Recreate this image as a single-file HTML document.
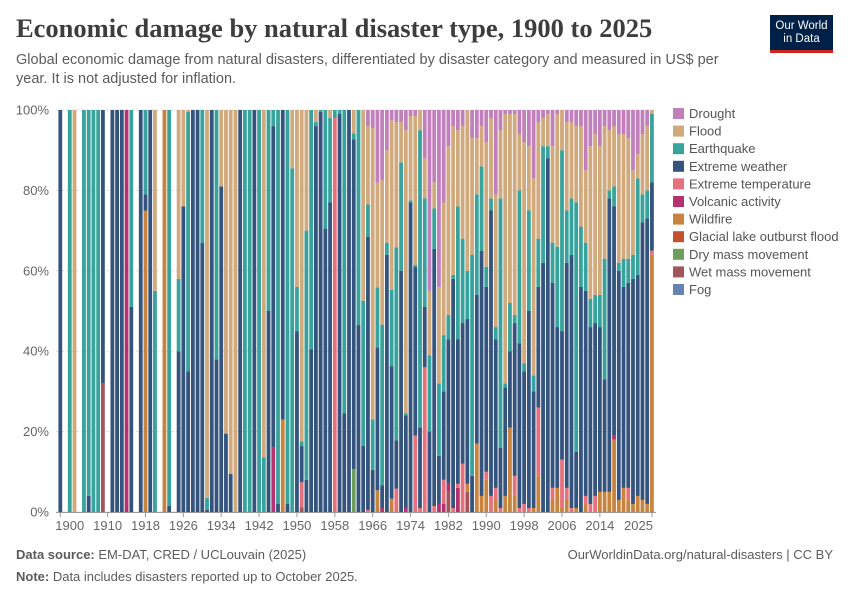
<!DOCTYPE html>
<html><head><meta charset="utf-8">
<style>
body{margin:0;background:#fff;width:850px;height:600px;overflow:hidden;font-family:"Liberation Sans",sans-serif;}
#title{position:absolute;left:16px;top:13px;font-family:"Liberation Serif",serif;font-size:26.5px;font-weight:bold;color:#3d3d3d;margin:0;}
#subtitle{position:absolute;left:16px;top:51px;width:730px;font-size:14.5px;line-height:19px;color:#5b5b5b;}
#logo{position:absolute;left:770px;top:15px;width:63px;height:38px;background:#002147;color:#fff;font-size:11.5px;line-height:13px;text-align:center;border-bottom:3px solid #ce261e;box-sizing:border-box;padding-top:5px;}
.foot{position:absolute;font-size:13px;color:#5b5b5b;}
</style></head><body>
<div id="title">Economic damage by natural disaster type, 1900 to 2025</div>
<div id="subtitle">Global economic damage from natural disasters, differentiated by disaster category and measured in US$ per year. It is not adjusted for inflation.</div>
<div id="logo">Our World<br>in Data</div>
<svg id="chart" width="850" height="600" style="position:absolute;left:0;top:0"></svg>
<div class="foot" style="left:16px;top:547px"><b>Data source:</b> EM-DAT, CRED / UCLouvain (2025)</div>
<div class="foot" style="right:17px;top:547px">OurWorldinData.org/natural-disasters | CC BY</div>
<div class="foot" style="left:16px;top:569px"><b>Note:</b> Data includes disasters reported up to October 2025.</div>
<script>
const startYear = 1900;
const yTicks = [0,20,40,60,80,100];
const xTicks = [1900,1910,1918,1926,1934,1942,1950,1958,1966,1974,1982,1990,1998,2006,2014,2025];
const seriesNames = ["Drought","Flood","Earthquake","Extreme weather","Extreme temperature","Volcanic activity","Wildfire","Glacial lake outburst flood","Dry mass movement","Wet mass movement","Fog"];
const seriesColors = ["#c17fbc","#d0a97c","#38a39c","#34547e","#e7707d","#b5316f","#c7843e","#c4522f","#6d9e5c","#a2565a","#6683b3"];
const drought = [0,0,0,0,0,0,0,0,0,0, 0,0,0,0,0,0,0,0,0,0, 0,0,0,0,0,0,0,0,0,0, 0,0,0,0,0,0,0,0,0,0, 0,0,0,0,0,0,0,0,0,0, 0,0,0,0,0,0,0,0,0,0,
 0,0,0,0,0,4,4.5,18.1,17.4,10, 2.5,3,3,5,1.5,1.5,0,12,45,18, 44,23,9,4,5,4,0,7,7,4, 8,2,21,5,1,1,1,6,8,9, 17,3,2,1,9,1,0,3,3,4, 4,15,9,6,9,4,5,4,6,6, 7,15,11,6,4,0];
const flood = [0,0,0,100,0,0,0,0,0,0, 0,0,0,0,0,0,0,0,0,0, 45,0,0,0,0,42,24,0.5,0,0, 0,96.5,0,0,19,80.5,90.5,100,0,0, 0,0,0,86.4,0,0,0,0,0,14.5, 44,82.4,30,0,3,0,0,2,0,0,
 0,0,5.8,0,47.5,19.5,72.5,26,36,23, 42.2,31.2,10,70.5,21,37,5,10,16,6.5, 24,33,42,37,19,28,40,29,14,10, 31,20,33,17,67,47,50,14,55,16, 49,29,7,8,24,33,10,22,19,19, 25,18,38,40,37,33,15,15,32,31, 30,21,6,15,16,1];
const earthquake = [0,0,100,0,0,100,96,100,100,0, 0,0,0,0,0,49,0,0,21,0, 55,0,0,98.5,0,18,0,64.5,0,0, 33,3,0,62,0,0,0,0,0,100, 100,0,100,13.6,50,4,98,0,98,85.5, 11,1.2,62,59.5,1,0.5,29.5,21,2,1,
 75.5,0,1.5,53.5,36,8,12.5,15,40,3, 19,48,27,0.5,0.5,0.5,74,27,19,10, 18,14,6,1,33,21,12,55,25,21, 5,3,3,62,1,12,2,38,2,25, 4,12,29,3,10,20,45,13,14,62, 15,12,7,7,8,30,2,5,2,7, 6,6,24,7,7,17];
const extremeWeather = [100,0,0,0,0,0,4,0,0,68, 0,100,100,100,0,51,0,100,4,100, 0,0,0,1.5,0,40,76,35,100,100, 67,0.5,100,38,81,19.5,9.5,0,100,0, 0,100,0,0,50,80,2,77,2,0, 45,9,8,40.5,96,99.5,70.5,77,0,99,
 24.5,100,82,46.5,16.5,68,10.5,35.5,5.6,64, 33,12,60,23,77,42,20,15,20,64, 12,22,36,57,36,35,41,9,37,61, 46,71,37,15,27,19,38,41,33,49, 29,30,62,88,51,40,32,56,63,14, 56,51,44,43,41,28,73,57,57,50, 51,56,55,69,71,17];
const extremeTemp = [0,0,0,0,0,0,0,0,0,0, 0,0,0,0,0,0,0,0,0,0, 0,0,0,0,0,0,0,0,0,0, 0,0,0,0,0,0,0,0,0,0, 0,0,0,0,0,0,0,0,0,0, 0,6.2,0,0,0,0,0,0,98,0,
 0,0,0,0,0,0.5,0,0,0,0, 0,5.8,0,0,0,19,1,36,0,1.5, 0,6,0,1,1,12,0,0,0,0, 2,4,3,1,0,0,5,1,2,1, 0,17,0,0,3,0,12,3,1,0, 0,2,2,4,0,0,0,0,0,0, 3,0,0,0,0,1];
const volcanic = [0,0,0,0,0,0,0,0,0,0, 0,0,0,0,100,0,0,0,0,0, 0,0,0,0,0,0,0,0,0,0, 0,0,0,0,0,0,0,0,0,0, 0,0,0,0,0,16,0,0,0,0, 0,0,0,0,0,0,0,0,0,0,
 0,0,0,0,0,0,0,0,1,0, 0,0,0,1,0,0,0,0,0,0, 2,2,2,0,6,0,0,0,0,0, 0,0,0,0,0,0,0,0,0,0, 0,0,0,0,0,0,0,0,0,0, 0,0,0,0,0,0,0,1,0,0, 0,0,0,0,0,0];
const wildfire = [0,0,0,0,0,0,0,0,0,0, 0,0,0,0,0,0,0,0,75,0, 0,0,100,0,0,0,0,0,0,0, 0,0,0,0,0,0,0,0,0,0, 0,0,0,0,0,0,0,23,0,0, 0,0,0,0,0,0,0,0,0,0,
 0,0,0,0,0,0,0,5.4,0,0, 3.3,0,0,0,0,0,0,0,0,0, 0,0,0,0,0,0,2,0,17,4, 8,0,3,0,4,21,4,0,0,0, 1,9,0,0,3,6,1,3,0,1, 0,2,0,0,5,5,5,18,3,6, 3,2,4,3,2,64];
const glacial = [0,0,0,0,0,0,0,0,0,0, 0,0,0,0,0,0,0,0,0,0, 0,0,0,0,0,0,0,0,0,0, 0,0,0,0,0,0,0,0,0,0, 0,0,0,0,0,0,0,0,0,0, 0,0,0,0,0,0,0,0,0,0,
 0,0,0,0,0,0,0,0,0,0, 0,0,0,0,0,0,0,0,0,0, 0,0,0,0,0,0,0,0,0,0, 0,0,0,0,0,0,0,0,0,0, 0,0,0,0,0,0,0,0,0,0, 0,0,0,0,0,0,0,0,0,0, 0,0,0,0,0,0];
const dryMass = [0,0,0,0,0,0,0,0,0,0, 0,0,0,0,0,0,0,0,0,0, 0,0,0,0,0,0,0,0,0,0, 0,0,0,0,0,0,0,0,0,0, 0,0,0,0,0,0,0,0,0,0, 0,0,0,0,0,0,0,0,0,0,
 0,0,10.7,0,0,0,0,0,0,0, 0,0,0,0,0,0,0,0,0,0, 0,0,0,0,0,0,0,0,0,0, 0,0,0,0,0,0,0,0,0,0, 0,0,0,0,0,0,0,0,0,0, 0,0,0,0,0,0,0,0,0,0, 0,0,0,0,0,0];
const wetMass = [0,0,0,0,0,0,0,0,0,32, 0,0,0,0,0,0,0,0,0,0, 0,0,0,0,0,0,0,0,0,0, 0,0,0,0,0,0,0,0,0,0, 0,0,0,0,0,0,0,0,0,0, 0,1.2,0,0,0,0,0,0,0,0,
 0,0,0,0,0,0,0,0,0,0, 0,0,0,0,0,0,0,0,0,0, 0,0,5,0,0,0,5,0,0,0, 0,0,0,0,0,0,0,0,0,0, 0,0,0,0,0,0,0,0,0,0, 0,0,0,0,0,0,0,0,0,0, 0,0,0,0,0,0];
const fog = [0,0,0,0,0,0,0,0,0,0, 0,0,0,0,0,0,0,0,0,0, 0,0,0,0,0,0,0,0,0,0, 0,0,0,0,0,0,0,0,0,0, 0,0,0,0,0,0,0,0,0,0, 0,0,0,0,0,0,0,0,0,0,
 0,0,0,0,0,0,0,0,0,0, 0,0,0,0,0,0,0,0,0,0, 0,0,0,0,0,0,0,0,0,0, 0,0,0,0,0,0,0,0,0,0, 0,0,0,0,0,0,0,0,0,0, 0,0,0,0,0,0,0,0,0,0, 0,0,0,0,0,0];

const series = [drought,flood,earthquake,extremeWeather,extremeTemp,volcanic,wildfire,glacial,dryMass,wetMass,fog];
const svg = document.getElementById('chart');
const NS = 'http://www.w3.org/2000/svg';
const plotTop = 110, plotBottom = 512, x0 = 60.3, step = 4.733, barW = 3.8;
function xScale(year){ return x0 + (year - startYear) * step; }
function yScale(p){ return plotBottom - (p / 100) * (plotBottom - plotTop); }
function mk(tag, attrs){ const e = document.createElementNS(NS, tag); for (const k in attrs) e.setAttribute(k, attrs[k]); svg.appendChild(e); return e; }

yTicks.forEach(t => {
  const y = yScale(t);
  const g = mk('line', {x1:56, x2:656, y1:y, y2:y, stroke:'#ddd', 'stroke-dasharray': t === 0 ? '' : '3,2'});
  
  
  const lbl = mk('text', {x:49, y:y+4.5, 'text-anchor':'end', 'font-size':13, fill:'#666', 'font-family':'Liberation Sans, sans-serif'});
  lbl.textContent = t + '%';
  
  
});

const n = drought.length;
for (let i = 0; i < n; i++) {
  let total = 0;
  series.forEach(s => total += s[i]);
  if (total <= 0) continue;
  let cum = 0;
  for (let k = series.length - 1; k >= 0; k--) {
    const v = series[k][i];
    if (v <= 0) continue;
    const yA = yScale(cum / total * 100), yB = yScale((cum + v) / total * 100);
    const r = mk('rect', {x: xScale(startYear + i) - barW/2, y: yB, width: barW, height: yA - yB, fill: seriesColors[k]});
    
    
    cum += v;
  }
}

const axis = mk('line', {x1:56, x2:656, y1:plotBottom+0.5, y2:plotBottom+0.5, stroke:'#999'});


xTicks.forEach((yr, idx) => {
  const x = xScale(yr);
  const tk = mk('line', {x1:x, x2:x, y1:plotBottom, y2:plotBottom+5, stroke:'#999'});
  
  
  let anchor = 'middle', lx = x;
  if (idx === 0) { anchor = 'start'; lx = x - 5; }
  if (idx === xTicks.length - 1) { anchor = 'end'; lx = x + 1; }
  const lbl = mk('text', {x:lx, y:plotBottom+18, 'text-anchor':anchor, 'font-size':13, fill:'#666', 'font-family':'Liberation Sans, sans-serif'});
  lbl.textContent = yr;
  
  
});

seriesNames.forEach((name, k) => {
  const y = 108 + k * 17.6;
  const sw = mk('rect', {x:673, y:y, width:11, height:11, fill:seriesColors[k]});
  
  
  const t = mk('text', {x:689, y:y+10, 'font-size':13, fill:'#555', 'font-family':'Liberation Sans, sans-serif'});
  t.textContent = name;
  
  
});
</script>
</body></html>
